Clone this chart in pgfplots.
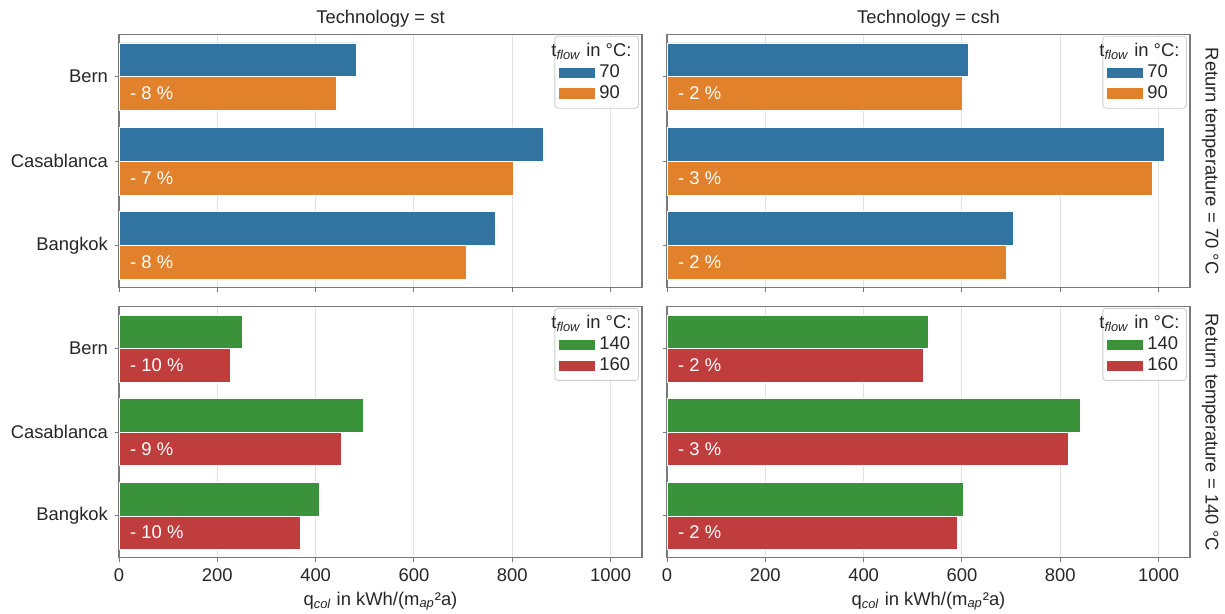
\documentclass[border=0pt]{standalone}
\usepackage{fontspec}
\setmainfont{Liberation Sans}
\usepackage{pgfplots}
\pgfplotsset{compat=1.18}
\definecolor{cblue}{HTML}{3274A1}
\definecolor{corange}{HTML}{E1812C}
\definecolor{cgreen}{HTML}{3A923A}
\definecolor{cred}{HTML}{C03D3E}
\definecolor{txt}{HTML}{262626}
\definecolor{gridc}{HTML}{E2E2E2}
\definecolor{framec}{HTML}{7A7A7A}
\newcommand{\fs}{\fontsize{9.2}{11}\selectfont}
\tikzset{annot/.style={anchor=west, inner sep=0pt, text=white, font=\fs}}
\pgfplotsset{
 panel/.style={
   scale only axis, width=261.5pt,
   xmin=0, xmax=1064, ymin=-0.5, ymax=2.5, y dir=reverse,
   xtick={0,200,400,600,800,1000}, ytick={0,1,2},
   xtick pos=bottom, ytick pos=left, tick align=outside, major tick length=2pt,
   tick style={framec, line width=0.5pt},
   axis line style={framec, line width=0.6pt},
   xmajorgrids, grid style={gridc, line width=0.5pt},
   xbar, bar width=0.4, bar shift=0pt,
   font=\fs,
   every tick label/.append style={text=txt, font=\fs},
   /pgf/number format/assume math mode=true,
   /pgf/number format/1000 sep={},
   legend style={at={(0.994,0.995)}, anchor=north east, draw=black!20,
     fill=white, fill opacity=0.8, draw opacity=1, text opacity=1, rounded corners=1.5pt,
     font=\fs, text=txt, row sep=-1.5pt, inner sep=1.5pt},
   legend cell align=left,
   legend image code/.code={\fill[##1, sharp corners, fill opacity=1] (0pt,-2.8pt) rectangle (18.5pt,2.8pt);},
   clip=false,
   every axis title shift=0pt,
   title style={at={(0.5,1)}, anchor=base, yshift=5.5pt, text=txt, font=\fs},
   xlabel style={at={(axis description cs:0.5,0)}, anchor=base, yshift=-24pt, text=txt, font=\fs},
 },
}
\begin{document}
\begin{tikzpicture}
\useasboundingbox (0,0) rectangle (612.5pt,307pt);
% top left
\begin{axis}[panel, name=tl, at={(59.5pt,163.15pt)}, anchor=south west, height=126.6pt,
  title={Technology = st}, yticklabels={Bern,Casablanca,Bangkok}, xticklabels={}]
\addlegendimage{empty legend}
\addplot[fill=cblue, draw=white, line width=0.3pt] coordinates {(483.6,-0.2) (863.3,0.8) (765.8,1.8)};
\addplot[fill=corange, draw=white, line width=0.3pt] coordinates {(442.2,0.2) (802.3,1.2) (707,2.2)};
\legend{\hspace{-24pt}t\textsubscript{\textit{flow}} in °C:,70,90}
\node[annot] at (axis cs:22,0.2) {- 8 \%};
\node[annot] at (axis cs:22,1.2) {- 7 \%};
\node[annot] at (axis cs:22,2.2) {- 8 \%};
\end{axis}
% top right
\begin{axis}[panel, name=tr, at={(333.5pt,163.15pt)}, anchor=south west, height=126.6pt,
  title={Technology = csh}, yticklabels={}, xticklabels={}]
\addlegendimage{empty legend}
\addplot[fill=cblue, draw=white, line width=0.3pt] coordinates {(612.5,-0.2) (1012.4,0.8) (704,1.8)};
\addplot[fill=corange, draw=white, line width=0.3pt] coordinates {(601.5,0.2) (988,1.2) (690,2.2)};
\legend{\hspace{-24pt}t\textsubscript{\textit{flow}} in °C:,70,90}
\node[annot] at (axis cs:22,0.2) {- 2 \%};
\node[annot] at (axis cs:22,1.2) {- 3 \%};
\node[annot] at (axis cs:22,2.2) {- 2 \%};
\end{axis}
% bottom left
\begin{axis}[panel, name=bl, at={(59.5pt,28.15pt)}, anchor=south west, height=125.5pt,
  yticklabels={Bern,Casablanca,Bangkok},
  xlabel={q\textsubscript{\textit{col}} in kWh/(m\textsubscript{\textit{ap}}²a)}]
\addlegendimage{empty legend}
\addplot[fill=cgreen, draw=white, line width=0.3pt] coordinates {(251,-0.2) (496.8,0.8) (408,1.8)};
\addplot[fill=cred, draw=white, line width=0.3pt] coordinates {(227,0.2) (452.5,1.2) (368,2.2)};
\legend{\hspace{-24pt}t\textsubscript{\textit{flow}} in °C:,140,160}
\node[annot] at (axis cs:22,0.2) {- 10 \%};
\node[annot] at (axis cs:22,1.2) {- 9 \%};
\node[annot] at (axis cs:22,2.2) {- 10 \%};
\end{axis}
% bottom right
\begin{axis}[panel, name=br, at={(333.5pt,28.15pt)}, anchor=south west, height=125.5pt,
  yticklabels={},
  xlabel={q\textsubscript{\textit{col}} in kWh/(m\textsubscript{\textit{ap}}²a)}]
\addlegendimage{empty legend}
\addplot[fill=cgreen, draw=white, line width=0.3pt] coordinates {(531,-0.2) (841.6,0.8) (603,1.8)};
\addplot[fill=cred, draw=white, line width=0.3pt] coordinates {(521,0.2) (817.3,1.2) (590.4,2.2)};
\legend{\hspace{-24pt}t\textsubscript{\textit{flow}} in °C:,140,160}
\node[annot] at (axis cs:22,0.2) {- 2 \%};
\node[annot] at (axis cs:22,1.2) {- 3 \%};
\node[annot] at (axis cs:22,2.2) {- 2 \%};
\end{axis}
\node[rotate=-90, font=\fs, text=txt] at ([xshift=10pt]tr.east) {Return temperature = 70 °C};
\node[rotate=-90, font=\fs, text=txt] at ([xshift=10pt]br.east) {Return temperature = 140 °C};
\end{tikzpicture}
\end{document}
